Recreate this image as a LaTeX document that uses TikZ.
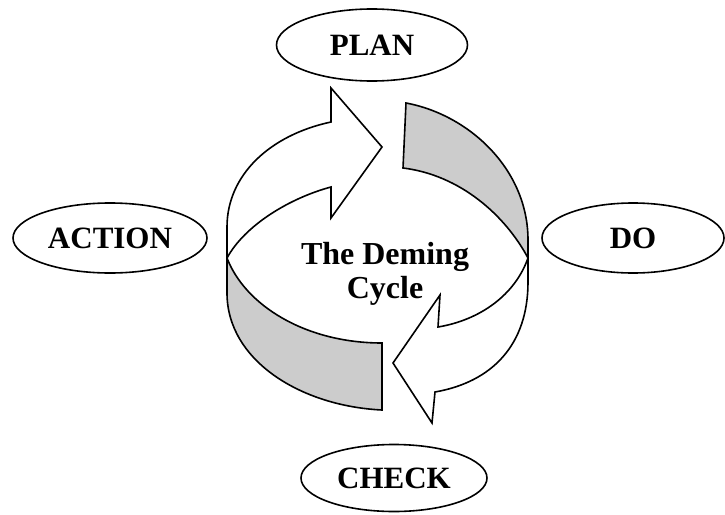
\documentclass[tikz,border=0pt]{standalone}
\usepackage{fontspec}
\setmainfont{Liberation Serif}
\usetikzlibrary{shapes.geometric}
\definecolor{ribbon}{RGB}{204,204,204}
\tikzset{
  stage/.style={draw, line width=1.6pt, ellipse, inner sep=0pt, fill=white,
                font=\fontsize{31}{33}\selectfont\bfseries},
  arrowband/.style={draw, line width=1.6pt, fill=white, line join=miter},
  wall/.style={draw, line width=1.6pt, fill=ribbon, line join=miter},
}
\begin{document}
\begin{tikzpicture}[x=1pt, y=-1pt]
\useasboundingbox (0,0) rectangle (725,514);

% stage labels
\node[stage, minimum width=191pt, minimum height=72pt] (plan)   at (372,45)  {PLAN};
\node[stage, minimum width=194pt, minimum height=70pt] (action) at (110,238) {ACTION};
\node[stage, minimum width=182pt, minimum height=70pt] (do)     at (633,238) {DO};
\node[stage, minimum width=186pt, minimum height=67pt] (check)  at (394,478) {CHECK};

% upper-left band ending in the arrow head pointing right
\path[arrowband] (331,122) -- (331,88) -- (382,147) -- (331,218) -- (331,187)
  .. controls (290,198) and (245,225) .. (227,258)
  -- (227,227)
  .. controls (227,175) and (270,135) .. (331,122)
  -- cycle;

% lower-left wall of the ring
\path[wall] (227,258)
  .. controls (245,305) and (305,343) .. (382,343)
  -- (382,410)
  .. controls (300,406) and (227,360) .. (227,293)
  -- cycle;

% upper-right wall of the ring
\path[wall] (406,103)
  .. controls (470,115) and (528,170) .. (528,240)
  -- (528,258)
  .. controls (505,215) and (460,175) .. (403,168)
  -- cycle;

% lower-right band ending in the arrow head pointing left
\path[arrowband] (528,258)
  .. controls (515,295) and (480,320) .. (438,327)
  -- (440,295) -- (393,363) -- (432,423) -- (435,392)
  .. controls (492,382) and (528,345) .. (528,282)
  -- cycle;

% title in the middle of the ring
\node[align=center, font=\fontsize{32}{34}\selectfont\bfseries] (title) at (385,274)
  {The Deming\\Cycle};
\end{tikzpicture}
\end{document}
